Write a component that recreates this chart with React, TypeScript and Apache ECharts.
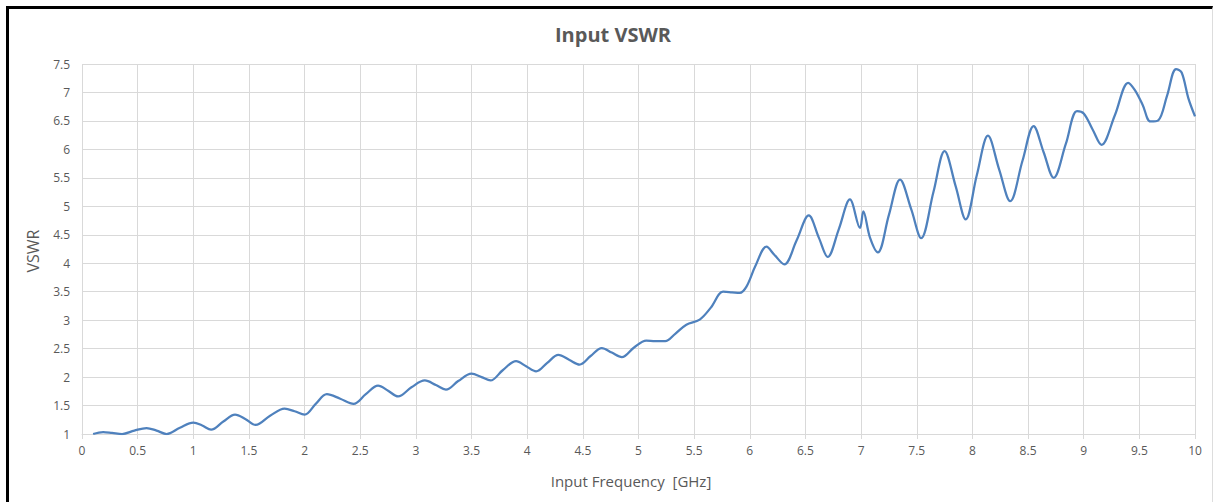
import React, { useEffect, useRef } from "react";
import * as echarts from "echarts";

const freq: number[] = [
  0.1, 0.19, 0.27, 0.36, 0.47, 0.58, 0.67, 0.76, 0.88, 1.0, 1.08, 1.16, 1.27, 1.375, 1.47, 1.56, 1.69, 1.82, 1.91, 2.0,
  2.1, 2.2, 2.32, 2.44, 2.55, 2.66, 2.75, 2.84, 2.96, 3.08, 3.18, 3.27, 3.38, 3.5, 3.59, 3.67, 3.78, 3.9, 3.99, 4.08,
  4.18, 4.28, 4.38, 4.47, 4.57, 4.67, 4.76, 4.85, 4.96, 5.07, 5.15, 5.24, 5.33, 5.43, 5.55, 5.65, 5.76, 5.84, 5.91, 5.97,
  6.05, 6.15, 6.22, 6.31, 6.42, 6.53, 6.62, 6.7, 6.8, 6.9, 6.99, 7.02, 7.08, 7.15, 7.25, 7.35, 7.45, 7.54, 7.65, 7.75,
  7.85, 7.94, 8.04, 8.14, 8.24, 8.34, 8.45, 8.55, 8.64, 8.73, 8.84, 8.94, 9.0, 9.08, 9.16, 9.28, 9.4, 9.46, 9.53, 9.6,
  9.67, 9.75, 9.83, 9.88, 9.94, 10.0,
];
const vswr: number[] = [
  1.0, 1.035, 1.02, 1.0, 1.06, 1.105, 1.06, 1.0, 1.11, 1.2, 1.15, 1.075, 1.22, 1.34, 1.26, 1.16, 1.32, 1.445, 1.4, 1.34,
  1.53, 1.7, 1.62, 1.53, 1.7, 1.85, 1.76, 1.66, 1.82, 1.94, 1.86, 1.78, 1.93, 2.06, 2.0, 1.94, 2.12, 2.28, 2.19, 2.1,
  2.25, 2.39, 2.3, 2.22, 2.37, 2.51, 2.43, 2.35, 2.52, 2.64, 2.63, 2.63, 2.76, 2.92, 3.01, 3.22, 3.5, 3.49, 3.48, 3.59,
  3.95, 4.29, 4.15, 3.98, 4.4, 4.84, 4.45, 4.11, 4.6, 5.12, 4.62, 4.91, 4.45, 4.19, 4.85, 5.47, 4.95, 4.44, 5.25, 5.97,
  5.35, 4.77, 5.55, 6.24, 5.65, 5.09, 5.8, 6.41, 5.95, 5.5, 6.1, 6.67, 6.63, 6.35, 6.08, 6.6, 7.17, 7.04, 6.78, 6.49,
  6.51, 6.95, 7.41, 7.35, 6.9, 6.58,
];

const titleText = "Input VSWR";
const xName = "Input Frequency  [GHz]";
const yName = "VSWR";

export default function App() {
  const ref = useRef<HTMLDivElement>(null);
  useEffect(() => {
    if (!ref.current) return;
    const chart = echarts.init(ref.current, undefined, { renderer: "svg" });
    const font = "'Open Sans', 'Liberation Sans', sans-serif";
    chart.setOption({
      animation: false,
      backgroundColor: "#ffffff",
      graphic: [
        {
          type: "text",
          x: 613,
          y: 34,
          style: {
            text: titleText,
            font: `bold 20px ${font}`,
            fill: "#595959",
            textAlign: "center",
            textVerticalAlign: "middle",
          },
        },
        {
          type: "text",
          x: 631,
          y: 481,
          style: {
            text: xName,
            font: `15px ${font}`,
            fill: "#595959",
            textAlign: "center",
            textVerticalAlign: "middle",
          },
        },
        {
          type: "text",
          x: 33,
          y: 251,
          rotation: Math.PI / 2,
          style: {
            text: yName,
            font: `16px ${font}`,
            fill: "#595959",
            textAlign: "center",
            textVerticalAlign: "middle",
          },
        },
      ],
      grid: { left: 82, right: 21, top: 64, bottom: 68 },
      xAxis: {
        type: "value",
        min: 0,
        max: 10,
        interval: 0.5,
        axisLine: { show: true, lineStyle: { color: "#d9d9d9", width: 1 } },
        axisTick: { show: true, length: 5, lineStyle: { color: "#d9d9d9" } },
        axisLabel: { fontFamily: font, fontSize: 12, color: "#595959", margin: 10 },
        splitLine: { show: true, lineStyle: { color: "#d9d9d9", width: 1 } },
      },
      yAxis: {
        type: "value",
        min: 1,
        max: 7.5,
        interval: 0.5,
        axisLine: { show: false },
        axisTick: { show: false },
        axisLabel: { fontFamily: font, fontSize: 12, color: "#595959", margin: 12 },
        splitLine: { show: true, lineStyle: { color: "#d9d9d9", width: 1 } },
      },
      series: [
        {
          type: "line",
          data: freq.map((f, i) => [f, vswr[i]]),
          showSymbol: false,
          smooth: 0.35,
          lineStyle: { color: "#4f81bd", width: 2.25 },
          itemStyle: { color: "#4f81bd" },
        },
      ],
    });
    return () => chart.dispose();
  }, []);
  return (
    <div style={{ position: "absolute", left: 0, top: 0, width: 1216, height: 502, overflow: "hidden", background: "#fff" }}>
      <div ref={ref} style={{ position: "absolute", left: 0, top: 0, width: 1216, height: 502 }} />
      <div
        style={{
          position: "absolute",
          left: 6,
          top: 6,
          width: 1203,
          height: 520,
          borderLeft: "3px solid #000",
          borderTop: "3px solid #000",
          borderRight: "1px solid #dddddd",
          pointerEvents: "none",
        }}
      />
    </div>
  );
}
